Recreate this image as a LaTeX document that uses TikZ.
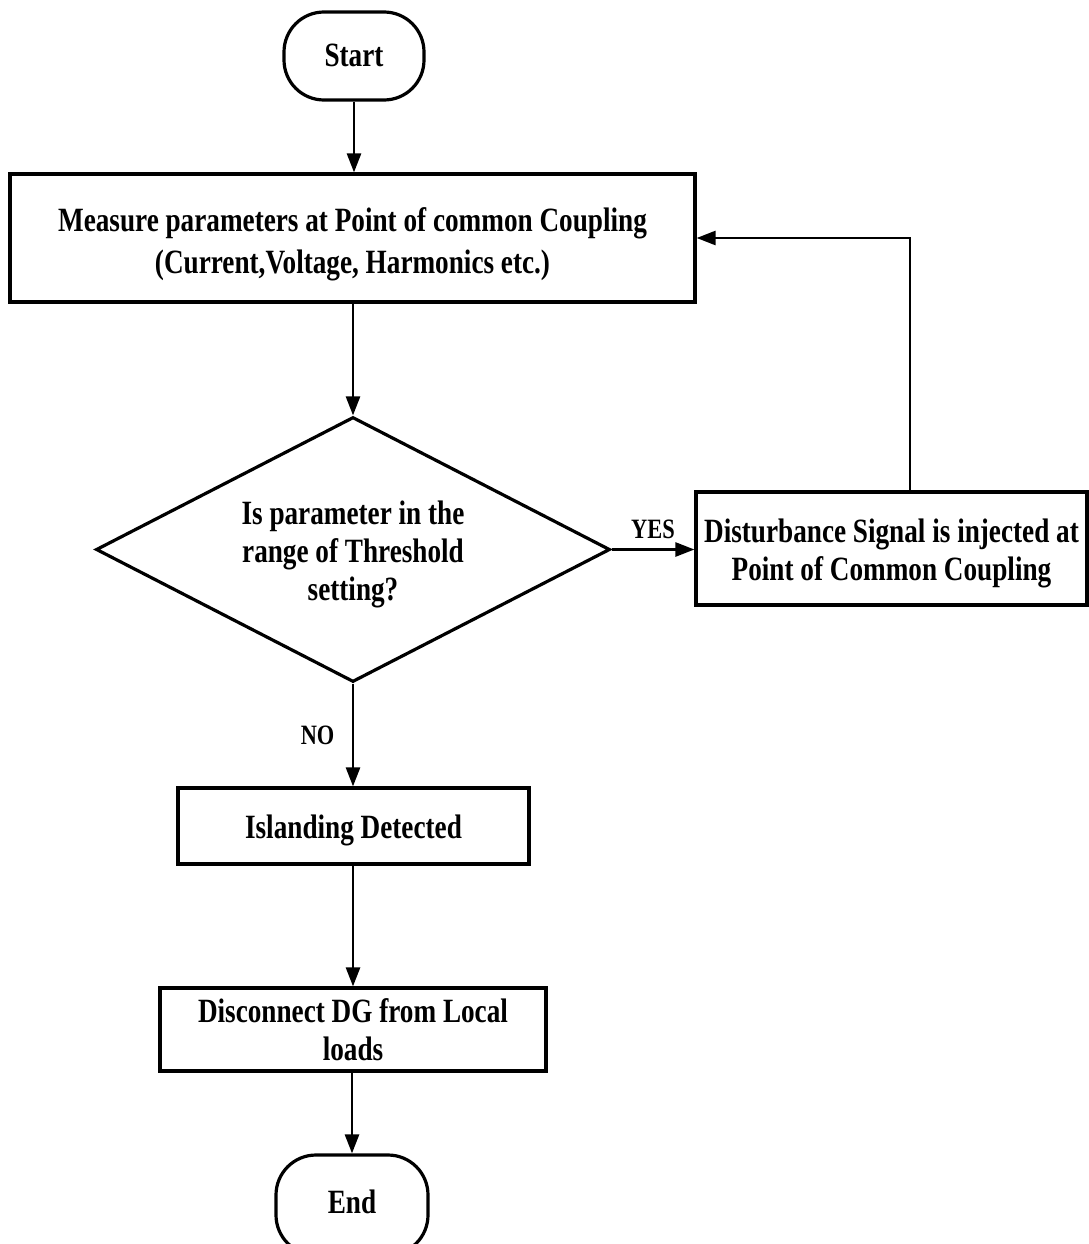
\documentclass[tikz,border=0pt]{standalone}
\usepackage{fontspec}
\setmainfont[FakeStretch=0.8]{Liberation Serif}
\usetikzlibrary{arrows.meta,shapes.geometric}

\begin{document}
\begin{tikzpicture}[x=1pt,y=-1pt,
  every node/.style={font=\fontsize{34}{42}\selectfont\bfseries},
  tight/.style={font=\fontsize{34}{38}\selectfont\bfseries},
  hd/.style 2 args={text height=#1,text depth=#2},
  box/.style={draw,line width=3.2pt,align=center,inner sep=0pt},
  term/.style={box,rounded corners=40pt},
  dia/.style={box,diamond,aspect=1.94,minimum width=514pt,minimum height=265pt},
  arr/.style={line width=2.6pt,-{Triangle[length=19pt,width=14pt]}},
  lbl/.style={font=\fontsize{28}{34}\selectfont\bfseries}]
\useasboundingbox (0,0) rectangle (1088,1244);

% process steps
\node[term,hd={27pt}{5pt},minimum width=140pt,minimum height=88pt] (start) at (354,56) {Start};
\node[box,hd={74pt}{4pt},minimum width=685pt,minimum height=128pt] (measure) at (352.5,238)
  {Measure parameters at Point of common Coupling\\(Current,Voltage, Harmonics etc.)};
\node[dia,tight,hd={106pt}{4pt}] (check) at (353,549.5) {Is parameter in the\\range of Threshold\\setting?};
\node[box,tight,hd={68pt}{4pt},minimum width=391pt,minimum height=113pt] (inject) at (891.5,548.5)
  {Disturbance Signal is injected at\\Point of Common Coupling};
\node[box,hd={30pt}{5pt},minimum width=351pt,minimum height=76pt] (island) at (353.5,826) {Islanding Detected};
\node[box,tight,hd={66pt}{4pt},minimum width=386pt,minimum height=83pt] (disc) at (353,1029.5)
  {Disconnect DG from Local\\loads};
\node[term,hd={24pt}{8pt},minimum width=152pt,minimum height=100pt] (end) at (352,1205) {End};

% connectors
\coordinate (fb) at (910,238);
\draw[arr] (start) -- (start |- measure.north);
\draw[arr] (measure.south -| check.north) -- (check.north);
\draw[arr] (check.east) -- (inject.west |- check.east) node[lbl,midway,above=6pt] {YES};
\draw[arr] (inject.north -| fb) -- (fb) -- (measure.east |- fb);
\draw[arr] (check.south) -- (check.south |- island.north) node[lbl,pos=0.5,left=14pt] {NO};
\draw[arr] (island.south -| disc.north) -- (disc.north);
\draw[arr] (disc.south -| end.north) -- (end.north);
\end{tikzpicture}
\end{document}
